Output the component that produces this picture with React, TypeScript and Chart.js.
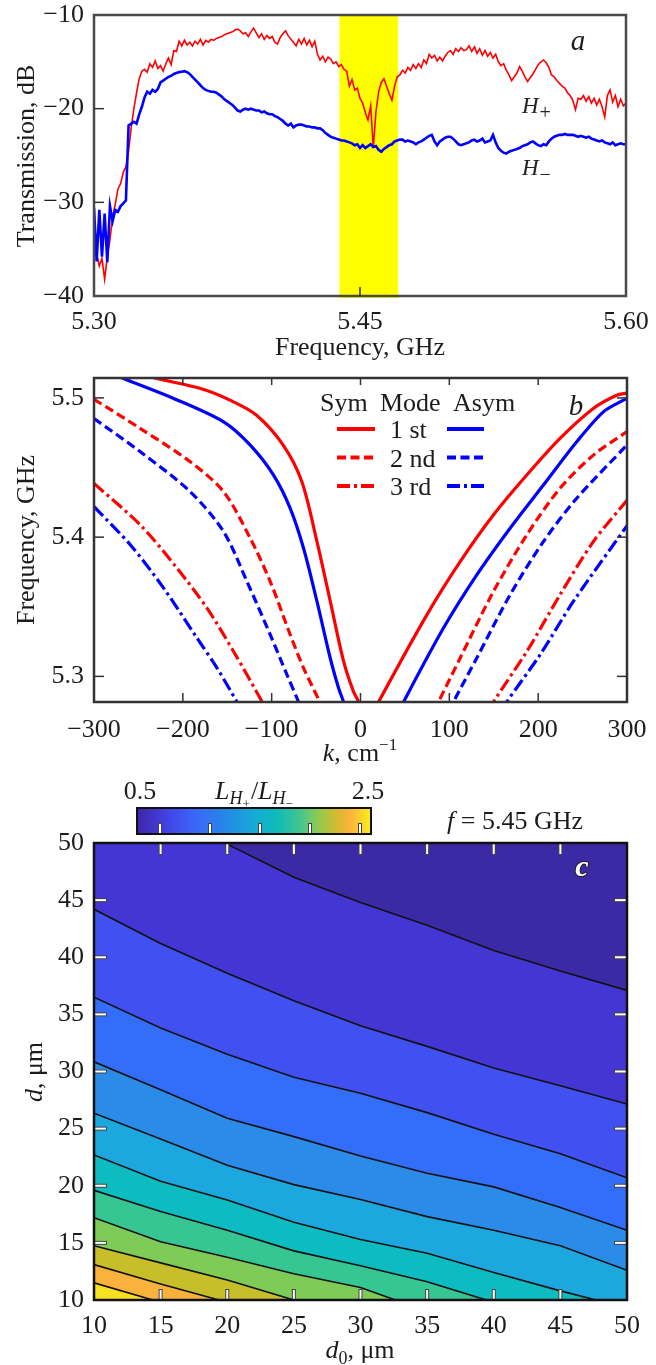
import React, { useEffect, useRef } from "react";
import { Chart, registerables } from "chart.js";
Chart.register(...registerables);

const SERIF = "'Liberation Serif', 'DejaVu Serif', 'Times New Roman', serif";
const FS = 26;
const TICK_FONT = { family: SERIF, size: FS, lineHeight: 1.1 };
const INK = "#1c1c1c";
const RED = "#ff0000";
const BLUE = "#0000ff";

// ---------------- Panel a : transmission ----------------
const FREQ_START = 5.3;
const FREQ_STEP = 0.0015;
const H_PLUS = [
  -31.0, -35.5, -36.8, -36.0, -38.2, -35.8, -34.0, -31.5, -30.2, -28.6,
  -28.0, -26.8, -26.2, -24.5, -22.0, -20.0, -18.3, -16.8, -16.0, -15.8,
  -16.1, -15.2, -15.6, -14.9, -15.7, -15.4, -16.0, -15.2, -14.6, -15.3,
  -13.8, -13.9, -12.8, -13.3, -12.7, -13.2, -12.9, -13.3, -12.8, -13.1,
  -12.6, -13.2, -12.7, -12.9, -12.6, -12.7, -12.5, -12.4, -12.3, -12.1,
  -12.0, -11.9, -11.8, -11.6, -11.5, -11.7, -12.0, -11.9, -12.3, -11.8,
  -11.4, -11.9, -12.4, -12.0, -12.6, -12.2, -12.5, -12.3, -12.9, -13.1,
  -12.4, -12.0, -11.7, -12.2, -12.6, -12.9, -13.3, -12.6, -13.1, -12.5,
  -13.2, -12.7, -13.4, -12.8, -14.2, -14.8, -14.4, -15.0, -14.5, -14.7,
  -15.2, -15.0, -15.5, -15.3, -15.8, -16.0, -17.6, -16.9, -18.0, -17.8,
  -18.9, -19.4, -20.4, -21.2, -19.7, -24.2, -20.3, -18.2, -17.2, -16.8,
  -17.6, -18.4, -19.1, -17.6, -16.6, -16.4, -15.9, -16.2, -15.6, -15.9,
  -15.3, -15.7, -15.2, -15.6, -14.8, -15.2, -14.2, -14.6, -14.3, -14.9,
  -14.5, -14.9, -14.4, -14.0, -13.8, -14.2, -13.6, -13.9, -13.5, -13.8,
  -13.7, -13.3, -13.9, -13.4, -14.1, -13.6, -14.3, -13.8, -14.4, -14.0,
  -14.6, -14.2, -15.0, -15.4, -15.2, -15.9, -16.4, -17.0, -16.6, -16.2,
  -15.5, -16.0, -16.6, -17.1, -16.7, -16.3, -15.8, -15.3, -15.0, -14.8,
  -15.1, -15.6, -16.4, -16.6, -17.0, -17.3, -17.6, -17.8, -18.3, -18.6,
  -19.1, -20.1, -18.9, -19.0, -18.6, -19.2, -18.7, -19.4, -18.9, -19.6,
  -19.0, -19.8, -20.9, -18.6, -18.0, -19.3, -18.6, -19.8, -19.0, -19.7,
  -19.4,
];
const H_MINUS = [
  -30.6, -36.3, -30.8, -35.8, -31.2, -36.4, -30.4, -32.0, -30.8, -31.0,
  -30.4, -30.1, -29.8, -21.8, -21.6, -21.4, -21.6, -20.6, -19.8, -18.8,
  -18.2, -18.4, -18.0, -18.2, -17.9, -17.2, -17.0, -16.8, -16.6, -16.5,
  -16.3, -16.2, -16.1, -16.05, -16.0, -16.1, -16.3, -16.6, -16.9, -17.2,
  -17.5, -17.8, -18.0, -18.1, -18.2, -18.2, -18.3, -18.5, -18.7, -19.0,
  -19.2, -19.4, -19.6, -19.9, -20.2, -20.3, -20.1, -20.0, -20.1, -20.0,
  -20.1, -20.2, -20.2, -20.4, -20.3, -20.5, -20.6, -20.6, -20.8, -20.9,
  -21.1, -21.3, -21.6, -21.8, -21.6, -22.0, -21.8, -21.7, -21.7, -21.8,
  -21.9, -21.9, -22.0, -22.0, -22.1, -22.1, -22.3, -22.6, -22.8, -23.0,
  -23.1, -23.2, -23.3, -23.4, -23.4, -23.5, -23.6, -23.7, -23.9, -23.8,
  -24.2, -23.9, -24.2, -24.0, -23.8, -24.1, -24.0, -24.4, -24.6, -24.3,
  -24.1, -23.9, -23.8, -23.5, -23.4, -23.3, -23.3, -23.5, -23.4, -23.5,
  -23.6, -23.8, -23.6, -23.5, -23.3, -23.1, -22.9, -22.8, -23.5, -23.9,
  -23.5, -23.3, -23.1, -23.0, -23.0, -23.2, -23.5, -23.8, -23.9, -23.8,
  -23.7, -23.6, -23.4, -23.3, -23.5, -23.4, -23.2, -23.6, -23.5, -23.4,
  -22.8, -23.6, -24.2, -24.5, -24.7, -24.8, -24.6, -24.5, -24.4, -24.3,
  -24.2, -24.0, -23.9, -23.8, -23.6, -23.5, -23.7, -23.9, -24.0, -23.8,
  -23.9, -23.5, -23.2, -23.0, -22.9, -22.8, -22.8, -22.7, -22.8, -22.8,
  -22.8, -22.9, -23.0, -22.9, -23.0, -23.1, -23.0, -23.2, -23.3, -23.4,
  -23.5, -23.4, -23.6, -23.7, -23.8, -23.6, -23.9, -23.8, -23.7, -23.8,
  -23.8,
];
const YELLOW_BAND = [5.4384, 5.4715];
const A_X_TICKS = [5.3, 5.45, 5.6];
const A_Y_TICKS = [-40, -30, -20, -10];

// ---------------- Panel b : dispersion ----------------
const SYM1_LEFT_K = [-250, -229, -180, -147, -117, -87, -66, -49, -34, -19, -8, -2, 3];
const SYM1_LEFT_F = [5.518, 5.5139, 5.5067, 5.4984, 5.4876, 5.4661, 5.4398, 5.3968, 5.3538, 5.3108, 5.2892, 5.2816, 5.272];
const ASYM1_LEFT_K = [-285, -266.6, -210.3, -154.1, -124.1, -97.9, -79.1, -64.1, -49, -34.1, -24.7, -19.1, -15];
const ASYM1_LEFT_F = [5.519, 5.5139, 5.4996, 5.4828, 5.4661, 5.4446, 5.4207, 5.392, 5.3538, 5.3132, 5.2917, 5.2816, 5.272];
const SYM2_LEFT_K = [-300, -247.8, -191.6, -154.1, -124.1, -101.6, -79.1, -64.1, -45.3, -41];
const SYM2_LEFT_F = [5.499, 5.478, 5.4541, 5.4326, 5.3992, 5.3681, 5.3299, 5.306, 5.2809, 5.274];
const ASYM2_LEFT_K = [-300, -247.8, -191.6, -154.1, -127.8, -101.6, -82.8, -69.7, -66];
const ASYM2_LEFT_F = [5.4852, 5.4613, 5.4326, 5.4039, 5.3681, 5.3299, 5.3012, 5.2816, 5.275];
const SYM3_LEFT_K = [-300, -247.8, -206.5, -172.8, -142.9, -111, -106];
const SYM3_LEFT_F = [5.4386, 5.4087, 5.3777, 5.349, 5.3179, 5.2821, 5.276];
const ASYM3_LEFT_K = [-300, -259, -221.6, -184, -161.5, -139, -134];
const ASYM3_LEFT_F = [5.4219, 5.3944, 5.3634, 5.3275, 5.306, 5.2816, 5.276];
const SYM1_RIGHT_K = [16, 20.3, 74.7, 112.2, 149.6, 187.2, 224.6, 262.1, 288.4, 300];
const SYM1_RIGHT_F = [5.275, 5.2816, 5.3442, 5.3824, 5.4159, 5.4446, 5.4709, 5.4924, 5.5019, 5.5035];
const ASYM1_RIGHT_K = [44, 48.4, 93.4, 130.9, 168.4, 205.9, 243.4, 273.4, 295.9, 300];
const ASYM1_RIGHT_F = [5.275, 5.2816, 5.3347, 5.3729, 5.4064, 5.4374, 5.4685, 5.49, 5.4984, 5.4995];
const SYM2_RIGHT_K = [83, 87.8, 112.2, 149.6, 187.2, 224.6, 262.1, 300];
const SYM2_RIGHT_F = [5.275, 5.2816, 5.3132, 5.3609, 5.4016, 5.4351, 5.4589, 5.4758];
const ASYM2_RIGHT_K = [100, 104.6, 130.9, 168.4, 205.9, 243.4, 300];
const ASYM2_RIGHT_F = [5.275, 5.2816, 5.3132, 5.3586, 5.3968, 5.4279, 5.4662];
const SYM3_RIGHT_K = [145, 149.6, 187.2, 224.6, 262.1, 300];
const SYM3_RIGHT_F = [5.275, 5.2816, 5.3179, 5.3586, 5.3968, 5.4265];
const ASYM3_RIGHT_K = [160, 164.7, 202.2, 239.6, 300];
const ASYM3_RIGHT_F = [5.275, 5.2816, 5.3156, 5.3538, 5.4082];
const B_X_TICKS = [-300, -200, -100, 0, 100, 200, 300];
const B_Y_TICKS = [5.3, 5.4, 5.5];
const MODE_LABELS = ["1 st", "2 nd", "3 rd"];

// ---------------- Panel c : contour map ----------------
const D0 = [10, 15, 20, 25, 30, 35, 40, 45, 50];
const C_TOP = [60, 60, 60, 60, 60, 60, 60, 60, 60];
const C1 = [55.5, 52.8, 49.9, 47.0, 44.8, 42.8, 40.6, 38.8, 37.1];
const C2 = [44.2, 41.2, 38.6, 36.2, 34.0, 32.2, 30.3, 28.75, 27.15];
const C3 = [36.5, 33.8, 31.5, 29.5, 28.1, 26.4, 24.5, 22.8, 20.7];
const C4 = [30.85, 28.4, 25.9, 24.3, 22.6, 21.1, 19.9, 18.1, 16.1];
const C5 = [26.35, 24.1, 21.8, 20.1, 18.8, 17.3, 16.1, 14.75, 12.6];
const C6 = [22.7, 20.4, 18.75, 16.8, 15.3, 14.1, 12.4, 10.8, 9.3];
const C7 = [19.6, 17.75, 16.1, 14.3, 13.0, 11.6, 9.8, 8.3, 6.7];
const C8 = [17.2, 15.1, 13.75, 12.3, 11.1, 9.0, 7.7, 6.2, 4.7];
const C9 = [14.75, 13.25, 11.75, 10.0, 8.4, 6.8, 5.2, 3.7, 2.2];
const C10 = [13.1, 11.4, 9.8, 8.3, 6.8, 5.3, 3.8, 2.3, 0.8];
const C11 = [11.5, 9.8, 8.4, 6.9, 5.4, 3.9, 2.4, 0.9, -0.6];
const C_BOTTOM = [-5, -5, -5, -5, -5, -5, -5, -5, -5];
const CONTOURS = [C1, C2, C3, C4, C5, C6, C7, C8, C9, C10, C11];
const BAND_COLORS = [
  "#3c2aa5", "#4336d4", "#4150f0", "#336efa", "#2a8ce8", "#1ca8de",
  "#0cbcc0", "#36c694", "#7ecb58", "#c8be2a", "#fab23c", "#f8e123",
];
const C_TICKS = [10, 15, 20, 25, 30, 35, 40, 45, 50];
const CBAR_LABELS = ["0.5", "2.5"];
const PARULA_STOPS = [
  [0, "#3e26a8"], [0.12, "#4340e0"], [0.25, "#3a67fb"], [0.38, "#2389e6"],
  [0.5, "#16abd6"], [0.6, "#0ebbb8"], [0.7, "#46c68c"], [0.78, "#95ca4e"],
  [0.85, "#d2bb2e"], [0.91, "#fbb33c"], [1, "#f6f01a"],
];

// ---------------- helpers ----------------
function fontStr(size: number, italic = false, bold = false) {
  return `${italic ? "italic " : "normal "}${bold ? "bold " : "normal "}${size}px ${SERIF}`;
}
type Run = { t: string; size?: number; italic?: boolean; dy?: number; dx?: number };
function drawRuns(ctx: any, runs: Run[], x: number, y: number, align = "center", color = INK) {
  ctx.save();
  ctx.fillStyle = color;
  ctx.textAlign = "left";
  ctx.textBaseline = "alphabetic";
  let total = 0;
  const widths = runs.map((r) => {
    ctx.font = fontStr(r.size ?? FS, !!r.italic);
    const w = ctx.measureText(r.t).width + (r.dx ?? 0);
    total += w;
    return w;
  });
  let cx = align === "left" ? x : align === "center" ? x - total / 2 : x - total;
  runs.forEach((r, i) => {
    ctx.font = fontStr(r.size ?? FS, !!r.italic);
    ctx.fillText(r.t, cx + (r.dx ?? 0), y + (r.dy ?? 0));
    cx += widths[i];
  });
  ctx.restore();
}
function drawRotRuns(ctx: any, runs: Run[], cx: number, cy: number) {
  ctx.save();
  ctx.translate(cx, cy);
  ctx.rotate(-Math.PI / 2);
  drawRuns(ctx, runs, 0, 8, "center");
  ctx.restore();
}
function frame(ctx: any, ca: any, color: string, w: number) {
  ctx.save();
  ctx.strokeStyle = color;
  ctx.lineWidth = w;
  ctx.strokeRect(ca.left, ca.top, ca.right - ca.left, ca.bottom - ca.top);
  ctx.restore();
}
function inwardTicks(ctx: any, chart: any, axis: string, values: number[], side: string, len: number, color: string, width: number, outline?: string) {
  const ca = chart.chartArea;
  const sc = chart.scales[axis];
  ctx.save();
  ctx.lineCap = "butt";
  const pass = (c: string, w: number, ext: number) => {
    ctx.strokeStyle = c;
    ctx.lineWidth = w;
    values.forEach((v) => {
      const p = sc.getPixelForValue(v);
      ctx.beginPath();
      if (side === "bottom") { ctx.moveTo(p, ca.bottom); ctx.lineTo(p, ca.bottom - len - ext); }
      if (side === "top") { ctx.moveTo(p, ca.top); ctx.lineTo(p, ca.top + len + ext); }
      if (side === "left") { ctx.moveTo(ca.left, p); ctx.lineTo(ca.left + len + ext, p); }
      if (side === "right") { ctx.moveTo(ca.right, p); ctx.lineTo(ca.right - len - ext, p); }
      ctx.stroke();
    });
  };
  if (outline) pass(outline, width + 2, 1);
  pass(color, width, 0);
  ctx.restore();
}
const minusFmt = (v: number, d = 0) => (v < 0 ? "\u2212" + Math.abs(v).toFixed(d) : v.toFixed(d));
const zeroPad = (s: any) => { s.paddingTop = 0; s.paddingBottom = 0; s.paddingLeft = 0; s.paddingRight = 0; };

function baseOptions(o: any) {
  return {
    animation: false,
    responsive: false,
    maintainAspectRatio: false,
    devicePixelRatio: 1,
    events: [],
    layout: { padding: { left: 0, top: o.T, right: o.W - o.R, bottom: 0 } },
    plugins: {
      legend: { display: false },
      tooltip: { enabled: false },
      filler: { drawTime: "beforeDatasetsDraw" },
    },
    scales: {
      x: {
        type: "linear",
        min: o.xMin,
        max: o.xMax,
        grid: { display: false, drawTicks: false },
        border: { display: false },
        afterFit: (s: any) => { s.height = o.H - o.B; zeroPad(s); },
        afterBuildTicks: (s: any) => { s.ticks = o.xTicks.map((v: number) => ({ value: v })); },
        ticks: { font: TICK_FONT, color: INK, padding: o.xPad, maxRotation: 0, minRotation: 0, autoSkip: false, callback: (v: number) => o.xFmt(v) },
      },
      y: {
        type: "linear",
        min: o.yMin,
        max: o.yMax,
        grid: { display: false, drawTicks: false },
        border: { display: false },
        afterFit: (s: any) => { s.width = o.L; zeroPad(s); },
        afterBuildTicks: (s: any) => { s.ticks = o.yTicks.map((v: number) => ({ value: v })); },
        ticks: { font: TICK_FONT, color: INK, padding: 10, autoSkip: false, callback: (v: number) => o.yFmt(v) },
      },
    },
  };
}

// ---------------- configs ----------------
function configA(): any {
  const pts = (arr: number[]) => arr.map((y, i) => ({ x: FREQ_START + i * FREQ_STEP, y }));
  return {
    type: "line",
    data: {
      datasets: [
        { label: "H-", data: pts(H_MINUS), borderColor: BLUE, borderWidth: 2.6, pointRadius: 0, tension: 0, order: 0, clip: 0, fill: false },
        { label: "H+", data: pts(H_PLUS), borderColor: RED, borderWidth: 1.6, pointRadius: 0, tension: 0, order: 1, clip: 0, fill: false },
      ],
    },
    options: baseOptions({
      W: 656, H: 362, L: 94, R: 626, T: 15, B: 296,
      xMin: 5.3, xMax: 5.6, yMin: -40, yMax: -10,
      xTicks: A_X_TICKS, yTicks: A_Y_TICKS, xPad: 12,
      xFmt: (v: number) => v.toFixed(2), yFmt: (v: number) => minusFmt(v),
    }),
    plugins: [{
      id: "decoA",
      beforeDatasetsDraw(chart: any) {
        const { ctx, chartArea: ca, scales } = chart;
        const x0 = scales.x.getPixelForValue(YELLOW_BAND[0]);
        const x1 = scales.x.getPixelForValue(YELLOW_BAND[1]);
        ctx.save();
        ctx.fillStyle = "#ffff00";
        ctx.fillRect(x0, ca.top - 1, x1 - x0, ca.bottom - ca.top + 3);
        ctx.restore();
      },
      afterDraw(chart: any) {
        const { ctx, chartArea: ca } = chart;
        frame(ctx, ca, "#4a4a4a", 2.5);
        inwardTicks(ctx, chart, "y", [-20, -30], "left", 10, "#333", 1.5);
        inwardTicks(ctx, chart, "x", [5.45], "bottom", 9, "#333", 1.5);
        drawRotRuns(ctx, [{ t: "Transmission, dB" }], 26, 156);
        drawRuns(ctx, [{ t: "Frequency, GHz" }], 360, 355);
        drawRuns(ctx, [{ t: "a", italic: true, size: 29 }], 578, 50);
        drawRuns(ctx, [{ t: "H", italic: true, size: 23 }, { t: "+", size: 20, dy: 6, dx: 1 }], 522, 113, "left", "#222");
        drawRuns(ctx, [{ t: "H", italic: true, size: 23 }, { t: "\u2212", size: 20, dy: 6, dx: 1 }], 522, 175, "left", "#222");
      },
    }],
  };
}

const DASH_2 = [9, 4.5];
const DASH_3 = [13, 4, 3, 4];
function configB(): any {
  const mk = (k: number[], f: number[], color: string, dash: number[]) => ({
    data: k.map((x, i) => ({ x, y: f[i] })),
    borderColor: color, borderWidth: 3.2, borderDash: dash, borderCapStyle: "butt",
    pointRadius: 0, tension: 0.3, clip: 0, fill: false,
  });
  return {
    type: "line",
    data: {
      datasets: [
        mk(SYM1_LEFT_K, SYM1_LEFT_F, RED, []),
        mk(SYM1_RIGHT_K, SYM1_RIGHT_F, RED, []),
        mk(ASYM1_LEFT_K, ASYM1_LEFT_F, BLUE, []),
        mk(ASYM1_RIGHT_K, ASYM1_RIGHT_F, BLUE, []),
        mk(SYM2_LEFT_K, SYM2_LEFT_F, RED, DASH_2),
        mk(SYM2_RIGHT_K, SYM2_RIGHT_F, RED, DASH_2),
        mk(ASYM2_LEFT_K, ASYM2_LEFT_F, BLUE, DASH_2),
        mk(ASYM2_RIGHT_K, ASYM2_RIGHT_F, BLUE, DASH_2),
        mk(SYM3_LEFT_K, SYM3_LEFT_F, RED, DASH_3),
        mk(SYM3_RIGHT_K, SYM3_RIGHT_F, RED, DASH_3),
        mk(ASYM3_LEFT_K, ASYM3_LEFT_F, BLUE, DASH_3),
        mk(ASYM3_RIGHT_K, ASYM3_RIGHT_F, BLUE, DASH_3),
      ],
    },
    options: baseOptions({
      W: 656, H: 404, L: 94, R: 627, T: 16, B: 340,
      xMin: -300, xMax: 300, yMin: 5.2816, yMax: 5.5143,
      xTicks: B_X_TICKS, yTicks: B_Y_TICKS, xPad: 14,
      xFmt: (v: number) => minusFmt(v), yFmt: (v: number) => v.toFixed(1),
    }),
    plugins: [{
      id: "decoB",
      afterDraw(chart: any) {
        const { ctx, chartArea: ca } = chart;
        frame(ctx, ca, "#333", 2.5);
        inwardTicks(ctx, chart, "x", [-200, -100, 0, 100, 200], "top", 7, "#333", 1.5);
        inwardTicks(ctx, chart, "x", [-200, -100, 0, 100, 200], "bottom", 9, "#333", 1.5);
        inwardTicks(ctx, chart, "y", B_Y_TICKS, "left", 10, "#333", 1.5);
        inwardTicks(ctx, chart, "y", B_Y_TICKS, "right", 10, "#333", 1.5);
        drawRotRuns(ctx, [{ t: "Frequency, GHz" }], 26, 178);
        drawRuns(ctx, [{ t: "k", italic: true }, { t: ", cm" }, { t: "\u22121", size: 17, dy: -11 }], 360, 399);
        drawRuns(ctx, [{ t: "b", italic: true, size: 29 }], 576, 53);
        // legend
        drawRuns(ctx, [{ t: "Sym" }], 320, 49, "left");
        drawRuns(ctx, [{ t: "Mode" }], 380, 49, "left");
        drawRuns(ctx, [{ t: "Asym" }], 453, 49, "left");
        const dashes = [[], DASH_2, DASH_3];
        MODE_LABELS.forEach((lab, i) => {
          const base = 76 + i * 28.5;
          const ly = base - 9;
          drawRuns(ctx, [{ t: lab }], 390, base, "left");
          ctx.save();
          ctx.lineWidth = 3.8;
          ctx.lineCap = "butt";
          ctx.setLineDash(dashes[i]);
          ctx.strokeStyle = RED;
          ctx.beginPath(); ctx.moveTo(337, ly); ctx.lineTo(375, ly); ctx.stroke();
          ctx.strokeStyle = BLUE;
          ctx.beginPath(); ctx.moveTo(447, ly); ctx.lineTo(484, ly); ctx.stroke();
          ctx.restore();
        });
      },
    }],
  };
}

function configC(): any {
  const pts = (arr: number[]) => arr.map((y, i) => ({ x: D0[i], y }));
  const datasets: any[] = [
    { data: pts(C_TOP), borderWidth: 0, borderColor: "rgba(0,0,0,0)", pointRadius: 0, fill: false, clip: 0, tension: 0 },
  ];
  CONTOURS.forEach((c, i) => {
    datasets.push({ data: pts(c), borderColor: "#111", borderWidth: 1.6, pointRadius: 0, tension: 0, clip: 0, fill: "-1", backgroundColor: BAND_COLORS[i] });
  });
  datasets.push({ data: pts(C_BOTTOM), borderWidth: 0, borderColor: "rgba(0,0,0,0)", pointRadius: 0, tension: 0, clip: 0, fill: "-1", backgroundColor: BAND_COLORS[11] });
  return {
    type: "line",
    data: { datasets },
    options: baseOptions({
      W: 656, H: 599, L: 94, R: 627, T: 77, B: 534,
      xMin: 10, xMax: 50, yMin: 10, yMax: 50,
      xTicks: C_TICKS, yTicks: C_TICKS, xPad: 12,
      xFmt: (v: number) => String(v), yFmt: (v: number) => String(v),
    }),
    plugins: [{
      id: "decoC",
      afterDraw(chart: any) {
        const { ctx, chartArea: ca } = chart;
        const inner = [15, 20, 25, 30, 35, 40, 45];
        inwardTicks(ctx, chart, "x", inner, "top", 11, "#fff", 2, "#444");
        inwardTicks(ctx, chart, "x", inner, "bottom", 10, "#fff", 2, "#444");
        inwardTicks(ctx, chart, "y", inner, "left", 12, "#fff", 2, "#444");
        inwardTicks(ctx, chart, "y", inner, "right", 12, "#fff", 2, "#444");
        frame(ctx, ca, "#111", 2.5);
        // colorbar
        const cx0 = 137, cx1 = 371, cy0 = 42, cy1 = 68;
        const g = ctx.createLinearGradient(cx0, 0, cx1, 0);
        PARULA_STOPS.forEach(([p, c]: any) => g.addColorStop(p, c));
        ctx.save();
        ctx.fillStyle = g;
        ctx.fillRect(cx0, cy0, cx1 - cx0, cy1 - cy0);
        [160, 210, 260, 310, 360].forEach((x) => {
          ctx.strokeStyle = "#444"; ctx.lineWidth = 4;
          ctx.beginPath(); ctx.moveTo(x, cy1); ctx.lineTo(x, cy1 - 11); ctx.stroke();
          ctx.strokeStyle = "#fff"; ctx.lineWidth = 2;
          ctx.beginPath(); ctx.moveTo(x, cy1); ctx.lineTo(x, cy1 - 10); ctx.stroke();
        });
        ctx.strokeStyle = "#111"; ctx.lineWidth = 2;
        ctx.strokeRect(cx0, cy0, cx1 - cx0, cy1 - cy0);
        ctx.restore();
        drawRuns(ctx, [{ t: CBAR_LABELS[0] }], 140, 33);
        drawRuns(ctx, [{ t: CBAR_LABELS[1] }], 368, 33);
        drawRuns(ctx, [
          { t: "L", italic: true }, { t: "H", italic: true, size: 18, dy: 5 }, { t: "+", size: 13, dy: 9 },
          { t: "/", dx: 1 },
          { t: "L", italic: true }, { t: "H", italic: true, size: 18, dy: 5 }, { t: "\u2212", size: 13, dy: 9 },
        ], 254, 33);
        drawRuns(ctx, [{ t: "f", italic: true }, { t: " = 5.45 GHz" }], 447, 63, "left");
        // panel letter
        ctx.save();
        ctx.font = fontStr(30, true, true);
        ctx.textAlign = "center";
        ctx.textBaseline = "alphabetic";
        ctx.lineWidth = 2;
        ctx.strokeStyle = "#222";
        ctx.strokeText("c", 582, 110);
        ctx.fillStyle = "#fff";
        ctx.fillText("c", 582, 110);
        ctx.restore();
        drawRotRuns(ctx, [{ t: "d", italic: true }, { t: ", \u03bcm" }], 34, 306);
        drawRuns(ctx, [{ t: "d", italic: true }, { t: "0", size: 18, dy: 6 }, { t: ", \u03bcm" }], 360, 592);
      },
    }],
  };
}

export default function App() {
  const aRef = useRef<HTMLCanvasElement | null>(null);
  const bRef = useRef<HTMLCanvasElement | null>(null);
  const cRef = useRef<HTMLCanvasElement | null>(null);
  useEffect(() => {
    const charts = [
      new Chart(aRef.current as any, configA()),
      new Chart(bRef.current as any, configB()),
      new Chart(cRef.current as any, configC()),
    ];
    return () => charts.forEach((c) => c.destroy());
  }, []);
  return (
    <div style={{ position: "absolute", left: 0, top: 0, width: 656, height: 1365, background: "#fff" }}>
      <canvas ref={aRef} width={656} height={362} style={{ position: "absolute", left: 0, top: 0, width: 656, height: 362 }} />
      <canvas ref={bRef} width={656} height={404} style={{ position: "absolute", left: 0, top: 362, width: 656, height: 404 }} />
      <canvas ref={cRef} width={656} height={599} style={{ position: "absolute", left: 0, top: 766, width: 656, height: 599 }} />
    </div>
  );
}
